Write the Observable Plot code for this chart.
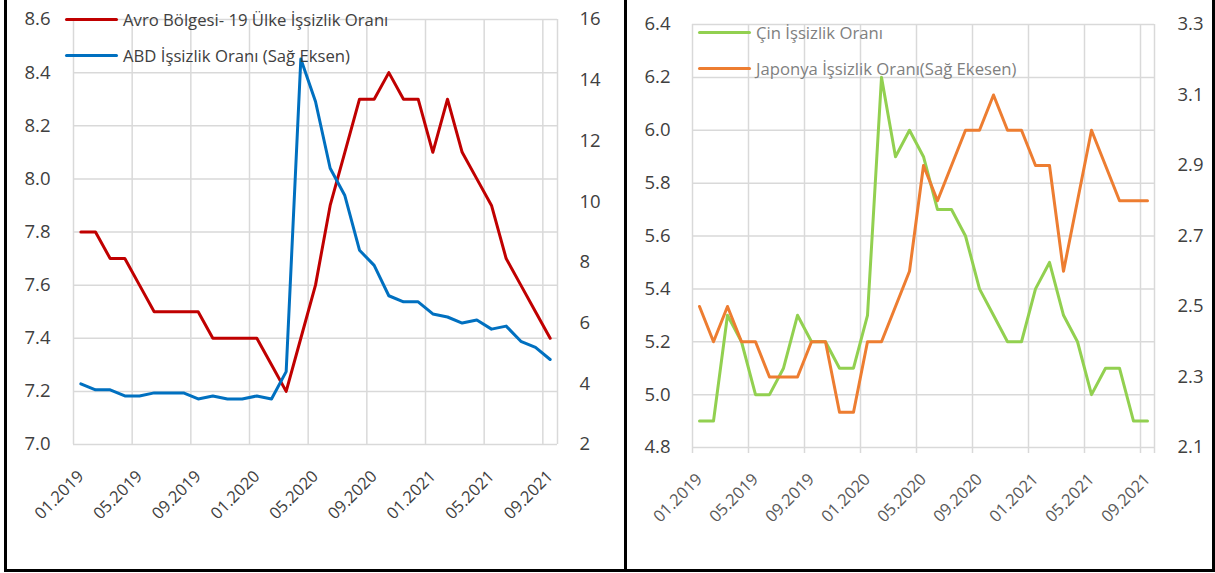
<!DOCTYPE html>
<html><head><meta charset="utf-8">
<script src="https://cdn.jsdelivr.net/npm/d3@7"></script>
<script src="https://cdn.jsdelivr.net/npm/@observablehq/plot@0.6"></script>
<style>
body{margin:0;background:#fff;}
#wrap{position:relative;width:1215px;height:573px;overflow:hidden;font-family:"Open Sans",sans-serif;background:#fff;}
.panel{position:absolute;top:0;}
.border{position:absolute;background:#000;}
.legend{position:absolute;font-family:"Open Sans",sans-serif;white-space:nowrap;}
.legend .item{position:absolute;left:0;display:flex;align-items:center;height:24px;}
.legend .sw{display:inline-block;width:53px;height:3px;border-radius:2px;margin-right:5px;}
</style></head><body>
<div id="wrap"></div>
<script>
// ---- data ----
const months = ["01.2019","02.2019","03.2019","04.2019","05.2019","06.2019","07.2019","08.2019","09.2019","10.2019","11.2019","12.2019",
  "01.2020","02.2020","03.2020","04.2020","05.2020","06.2020","07.2020","08.2020","09.2020","10.2020","11.2020","12.2020",
  "01.2021","02.2021","03.2021","04.2021","05.2021","06.2021","07.2021","08.2021","09.2021"];
const tickLabels = ["01.2019","05.2019","09.2019","01.2020","05.2020","09.2020","01.2021","05.2021","09.2021"];

const euroArea = [7.8,7.8,7.7,7.7,7.6,7.5,7.5,7.5,7.5,7.4,7.4,7.4,7.4,7.3,7.2,7.4,7.6,7.9,8.1,8.3,8.3,8.4,8.3,8.3,8.1,8.3,8.1,8.0,7.9,7.7,7.6,7.5,7.4];
const usa = [4.0,3.8,3.8,3.6,3.6,3.7,3.7,3.7,3.5,3.6,3.5,3.5,3.6,3.5,4.4,14.7,13.3,11.1,10.2,8.4,7.9,6.9,6.7,6.7,6.3,6.2,6.0,6.1,5.8,5.9,5.4,5.2,4.8];
const china = [4.9,4.9,5.3,5.2,5.0,5.0,5.1,5.3,5.2,5.2,5.1,5.1,5.3,6.2,5.9,6.0,5.9,5.7,5.7,5.6,5.4,5.3,5.2,5.2,5.4,5.5,5.3,5.2,5.0,5.1,5.1,4.9,4.9];
const japan = [2.5,2.4,2.5,2.4,2.4,2.3,2.3,2.3,2.4,2.4,2.2,2.2,2.4,2.4,2.5,2.6,2.9,2.8,2.9,3.0,3.0,3.1,3.0,3.0,2.9,2.9,2.6,2.8,3.0,2.9,2.8,2.8,2.8];

const leftTicksA = [7.0,7.2,7.4,7.6,7.8,8.0,8.2,8.4,8.6];
const rightTicksA = [2,4,6,8,10,12,14,16];
const leftTicksB = [4.8,5.0,5.2,5.4,5.6,5.8,6.0,6.2,6.4];
const rightTicksB = [2.1,2.3,2.5,2.7,2.9,3.1,3.3];

const seriesNames = {
  euro: "Avro Bölgesi- 19 Ülke İşsizlik Oranı",
  usa: "ABD İşsizlik Oranı (Sağ Eksen)",
  china: "Çin İşsizlik Oranı",
  japan: "Japonya İşsizlik Oranı(Sağ Ekesen)"
};
const colors = {euro:"#c00000", usa:"#0070c0", china:"#92d050", japan:"#ed7d31"};

// ---- helpers ----
const n = months.length;
const boundaries = d3.range(-0.5, n - 1, 4).concat([n - 0.5]);
const tickIdx = tickLabels.map(l => months.indexOf(l));
function mapper(l, r) { // maps right-axis values into left-axis domain
  const k = (l[1] - l[0]) / (r[1] - r[0]);
  return {to: v => l[0] + (v - r[0]) * k, from: v => r[0] + (v - l[0]) / k};
}
const mA = mapper([leftTicksA[0], leftTicksA.at(-1)], [rightTicksA[0], rightTicksA.at(-1)]);
const mB = mapper([leftTicksB[0], leftTicksB.at(-1)], [rightTicksB[0], rightTicksB.at(-1)]);

const tableA = months.map((m, i) => ({i, m, euro: euroArea[i], usa: mA.to(usa[i])}));
const tableB = months.map((m, i) => ({i, m, china: china[i], japan: mB.to(japan[i])}));

const grid = {stroke: "#d9d9d9", strokeOpacity: 1, strokeWidth: 1.5};
const lineStyle = {strokeWidth: 3, strokeLinejoin: "round", strokeLinecap: "round"};

const plotA = Plot.plot({
  width: 626, height: 573,
  marginLeft: 73, marginRight: 69, marginTop: 19, marginBottom: 129,
  x: {domain: [-0.5, n - 0.5], axis: null, label: null},
  y: {domain: [leftTicksA[0], leftTicksA.at(-1)], axis: null, label: null},
  style: {fontFamily: "Open Sans", fontSize: "18px", color: "#404040", background: "transparent"},
  marks: [
    Plot.gridY(leftTicksA, grid),
    Plot.gridX(boundaries, grid),
    Plot.axisY(leftTicksA, {anchor: "left", label: null, tickSize: 0, tickPadding: 23, tickFormat: d3.format(".1f"), fontSize: 18.5}),
    Plot.axisY(rightTicksA.map(mA.to), {anchor: "right", label: null, tickSize: 0, tickPadding: 22, fontSize: 18.5,
      tickFormat: d => String(Math.round(mA.from(d)))}),
    Plot.axisX(tickIdx, {anchor: "bottom", label: null, tickSize: 0, tickPadding: 29, tickRotate: -45, fontSize: 16.5,
      tickFormat: i => months[i]}),
    Plot.line(tableA, {x: "i", y: "euro", stroke: colors.euro, ...lineStyle}),
    Plot.line(tableA, {x: "i", y: "usa", stroke: colors.usa, ...lineStyle})
  ]
});

const plotB = Plot.plot({
  width: 589, height: 573,
  marginLeft: 66, marginRight: 61, marginTop: 24, marginBottom: 126,
  x: {domain: [-0.5, n - 0.5], axis: null, label: null},
  y: {domain: [leftTicksB[0], leftTicksB.at(-1)], axis: null, label: null},
  style: {fontFamily: "Open Sans", fontSize: "18px", color: "#404040", background: "transparent"},
  marks: [
    Plot.gridY(leftTicksB, grid),
    Plot.gridX(boundaries, grid),
    Plot.axisX(boundaries, {anchor: "bottom", label: null, tickSize: 6, tickFormat: () => "", stroke: "#d9d9d9", strokeWidth: 1.5, strokeOpacity: 1}),
    Plot.axisY(leftTicksB, {anchor: "left", label: null, tickSize: 0, tickPadding: 22, tickFormat: d3.format(".1f"), fontSize: 18.5}),
    Plot.axisY(rightTicksB.map(mB.to), {anchor: "right", label: null, tickSize: 0, tickPadding: 23, fontSize: 18.5,
      tickFormat: d => d3.format(".1f")(mB.from(d))}),
    Plot.axisX(tickIdx, {anchor: "bottom", label: null, tickSize: 0, tickPadding: 29, tickRotate: -45, fontSize: 16.5, fill: "#595959",
      tickFormat: i => months[i]}),
    Plot.line(tableB, {x: "i", y: "china", stroke: colors.china, ...lineStyle}),
    Plot.line(tableB, {x: "i", y: "japan", stroke: colors.japan, ...lineStyle})
  ]
});

const wrap = document.getElementById("wrap");
function place(el, left) { const d = document.createElement("div"); d.className = "panel"; d.style.left = left + "px"; d.appendChild(el); wrap.appendChild(d); }
place(plotA, 0);
place(plotB, 626);

function legend(left, items, color, size) {
  const lg = document.createElement("div");
  lg.className = "legend";
  lg.style.left = left + "px"; lg.style.top = "0px";
  lg.style.fontSize = size + "px"; lg.style.color = color;
  items.forEach(([key, cy]) => {
    const it = document.createElement("div");
    it.className = "item"; it.style.top = (cy - 12) + "px";
    const sw = document.createElement("span"); sw.className = "sw"; sw.style.background = colors[key];
    const tx = document.createElement("span"); tx.textContent = seriesNames[key];
    it.appendChild(sw); it.appendChild(tx); lg.appendChild(it);
  });
  wrap.appendChild(lg);
}
legend(65, [["euro", 19], ["usa", 55]], "#404040", 16.7);
legend(698, [["china", 32], ["japan", 68]], "#7f7f7f", 16.7);

// borders
[[4, 0, 3, 572], [624, 0, 3, 572], [1212, 0, 3, 572], [4, 569, 1211, 3]].forEach(([l, t, w, h]) => {
  const b = document.createElement("div"); b.className = "border";
  Object.assign(b.style, {left: l + "px", top: t + "px", width: w + "px", height: h + "px"});
  wrap.appendChild(b);
});
</script>
</body></html>
